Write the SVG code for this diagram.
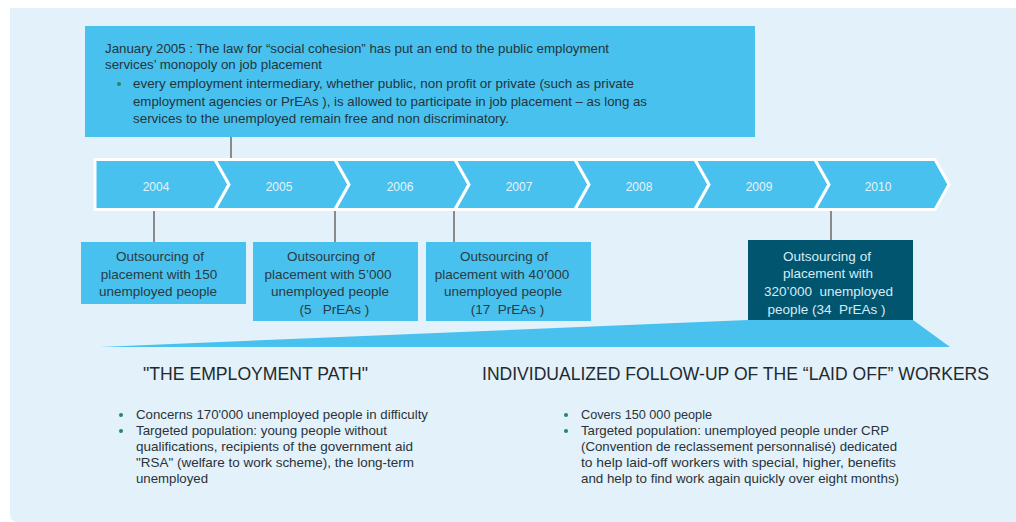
<svg xmlns="http://www.w3.org/2000/svg" width="1016" height="522" viewBox="0 0 1016 522">
<style>
text{font-family:"Liberation Sans",Arial,sans-serif}
.top{font-size:13px;fill:#24343c}
.yr{font-size:12px;fill:#e3f4fc;text-anchor:middle}
.bx{font-size:13.5px;fill:#2a3a42;text-anchor:middle}
.bxd{font-size:13.5px;fill:#d4ecf6;text-anchor:middle}
.hd{font-size:17.5px;fill:#222a2e}
.bl{font-size:13px;fill:#2a3338}
.chev{fill:#48c1ee;stroke:#ffffff;stroke-width:3;stroke-linejoin:miter}
.conn{stroke:#8a8a8a;stroke-width:2;fill:none}
.dot{fill:#1f8a5f}
</style>
<path d="M10,8 H1016 V522 H18 Q10,522 10,514 Z" fill="#e3f1fb"/>

<g id="connectors">
<line class="conn" x1="231" y1="137" x2="231" y2="158"/>
<line class="conn" x1="154" y1="211" x2="154" y2="242"/>
<line class="conn" x1="335" y1="211" x2="335" y2="242"/>
<line class="conn" x1="454" y1="211" x2="454" y2="242"/>
<line class="conn" x1="831" y1="211" x2="831" y2="240"/>
</g>

<g id="law-2005">
<rect x="85" y="26" width="670" height="111" fill="#48c1ee"/>
<text class="top" x="105" y="53" textLength="504" lengthAdjust="spacingAndGlyphs">January 2005 : The law for “social cohesion” has put an end to the public employment</text>
<text class="top" x="105" y="69" textLength="217" lengthAdjust="spacingAndGlyphs">services’ monopoly on job placement</text>
<circle class="dot" cx="119" cy="84" r="2"/>
<text class="top" x="133" y="88" textLength="501" lengthAdjust="spacingAndGlyphs">every employment intermediary, whether public, non profit or private (such as private</text>
<text class="top" x="133" y="105.5" textLength="514" lengthAdjust="spacingAndGlyphs">employment agencies or PrEAs ), is allowed to participate in job placement – as long as</text>
<text class="top" x="133" y="123" textLength="376" lengthAdjust="spacingAndGlyphs">services to the unemployed remain free and non discriminatory.</text>
</g>

<g id="timeline">
<polygon class="chev" points="95,159.5 215,159.5 229,184.5 215,209.5 95,209.5"/>
<polygon class="chev" points="215,159.5 335,159.5 349,184.5 335,209.5 215,209.5 229,184.5"/>
<polygon class="chev" points="335,159.5 455,159.5 469,184.5 455,209.5 335,209.5 349,184.5"/>
<polygon class="chev" points="455,159.5 575,159.5 589,184.5 575,209.5 455,209.5 469,184.5"/>
<polygon class="chev" points="575,159.5 695,159.5 709,184.5 695,209.5 575,209.5 589,184.5"/>
<polygon class="chev" points="695,159.5 815,159.5 829,184.5 815,209.5 695,209.5 709,184.5"/>
<polygon class="chev" points="815,159.5 935,159.5 949,184.5 935,209.5 815,209.5 829,184.5"/>
<text class="yr" x="156" y="191">2004</text>
<text class="yr" x="279" y="191">2005</text>
<text class="yr" x="400" y="191">2006</text>
<text class="yr" x="519" y="191">2007</text>
<text class="yr" x="639" y="191">2008</text>
<text class="yr" x="759" y="191">2009</text>
<text class="yr" x="878" y="191">2010</text>
</g>

<g id="box-2004">
<rect x="81" y="242" width="165" height="62" fill="#48c1ee"/>
<text class="bx" x="160" y="261">Outsourcing of</text>
<text class="bx" x="159" y="278.5">placement with 150</text>
<text class="bx" x="158" y="296">unemployed people</text>
</g>

<g id="box-2006">
<rect x="253" y="242" width="165" height="79" fill="#48c1ee"/>
<text class="bx" x="331" y="261">Outsourcing of</text>
<text class="bx" x="328" y="278.5">placement with 5’000</text>
<text class="bx" x="330" y="296">unemployed people</text>
<text class="bx" x="334.5" y="313.5" xml:space="preserve">(5   PrEAs )</text>
</g>

<g id="box-2007">
<rect x="426" y="242" width="165" height="79" fill="#48c1ee"/>
<text class="bx" x="504" y="261">Outsourcing of</text>
<text class="bx" x="502" y="278.5">placement with 40’000</text>
<text class="bx" x="503" y="296">unemployed people</text>
<text class="bx" x="507.5" y="313.5" xml:space="preserve">(17  PrEAs )</text>
</g>

<g id="wedge">
<polygon points="100,347 748,320 913,320 950,347" fill="#48c1ee"/>
</g>

<g id="box-2010">
<rect x="748" y="240" width="165" height="80" fill="#02556f"/>
<text class="bxd" x="827" y="260.5">Outsourcing of</text>
<text class="bxd" x="828" y="278">placement with</text>
<text class="bxd" x="828.5" y="295.5" xml:space="preserve">320’000  unemployed</text>
<text class="bxd" x="826.5" y="313.5" xml:space="preserve">people (34  PrEAs )</text>
</g>

<g id="employment-path">
<text class="hd" x="143" y="380" textLength="225" lengthAdjust="spacingAndGlyphs">"THE EMPLOYMENT PATH"</text>
<circle class="dot" cx="121" cy="415" r="2"/>
<text class="bl" x="136" y="419" textLength="292" lengthAdjust="spacingAndGlyphs">Concerns 170'000 unemployed people in difficulty</text>
<circle class="dot" cx="121" cy="431" r="2"/>
<text class="bl" x="136" y="435" textLength="251" lengthAdjust="spacingAndGlyphs">Targeted population: young people without</text>
<text class="bl" x="136" y="451" textLength="277" lengthAdjust="spacingAndGlyphs">qualifications, recipients of the government aid</text>
<text class="bl" x="136" y="467" textLength="278" lengthAdjust="spacingAndGlyphs">"RSA" (welfare to work scheme), the long-term</text>
<text class="bl" x="136" y="483" textLength="72" lengthAdjust="spacingAndGlyphs">unemployed</text>
</g>

<g id="laid-off-followup">
<text class="hd" x="482" y="380" textLength="507" lengthAdjust="spacingAndGlyphs">INDIVIDUALIZED FOLLOW-UP OF THE “LAID OFF” WORKERS</text>
<circle class="dot" cx="566" cy="415" r="2"/>
<text class="bl" x="581" y="419" textLength="131" lengthAdjust="spacingAndGlyphs">Covers 150 000 people</text>
<circle class="dot" cx="566" cy="431" r="2"/>
<text class="bl" x="581" y="435" textLength="308" lengthAdjust="spacingAndGlyphs">Targeted population: unemployed people under CRP</text>
<text class="bl" x="581" y="451" textLength="316" lengthAdjust="spacingAndGlyphs">(Convention de reclassement personnalisé) dedicated</text>
<text class="bl" x="581" y="467" textLength="315" lengthAdjust="spacingAndGlyphs">to help laid-off workers with special, higher, benefits</text>
<text class="bl" x="581" y="483" textLength="318" lengthAdjust="spacingAndGlyphs">and help to find work again quickly over eight months)</text>
</g>
</svg>
